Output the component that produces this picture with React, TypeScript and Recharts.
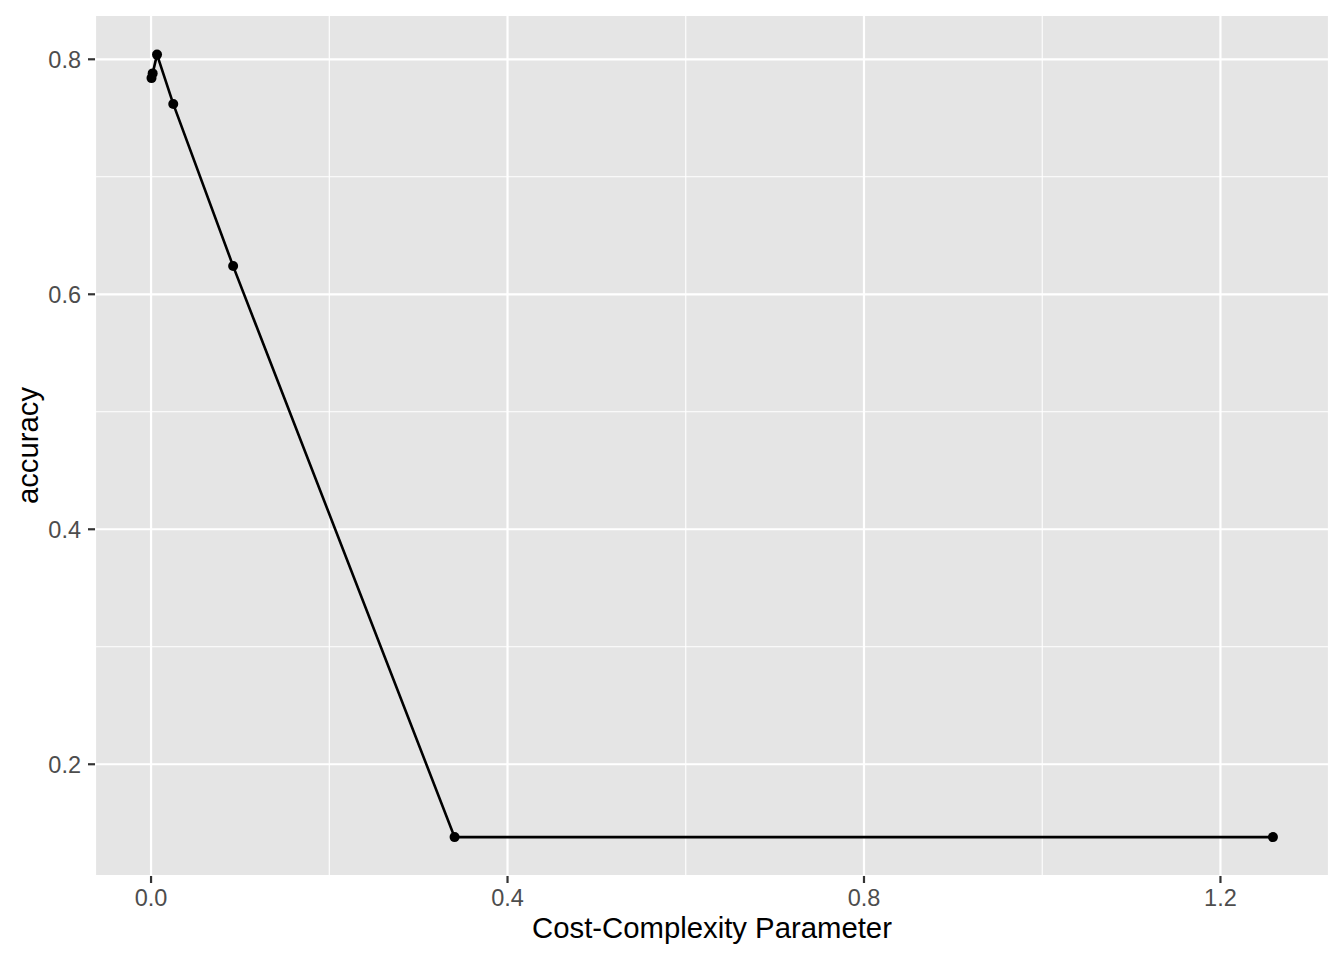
import { CartesianGrid, Label, Line, LineChart, ReferenceLine, XAxis, YAxis } from 'recharts';

// tuning grid results
const costComplexity = [0.0005, 0.0018, 0.0067, 0.0249, 0.0921, 0.3406, 1.2589];
const accuracy = [0.784, 0.788, 0.804, 0.762, 0.624, 0.138, 0.138];

const xTicks = [0, 0.4, 0.8, 1.2];
const yTicks = [0.2, 0.4, 0.6, 0.8];
const xMinor = [0.2, 0.6, 1.0];
const yMinor = [0.3, 0.5, 0.7];

const data = costComplexity.map((cp, i) => ({ cp, accuracy: accuracy[i] }));

const font = '"Liberation Sans", Arial, Helvetica, sans-serif';
const tickStyle = { fontSize: 23.5, fill: '#4D4D4D', fontFamily: font };

const YTitle = (props: any) => {
  const { x, y, height } = props.viewBox;
  return (
    <text
      transform={`translate(${x + 37.5}, ${y + height / 2}) rotate(-90)`}
      textAnchor="middle"
      fontSize={29.3}
      fontFamily={font}
      fill="#000000"
    >
      accuracy
    </text>
  );
};

export default function App() {
  return (
    <div style={{ position: 'absolute', left: 0, top: 0, width: 1344, height: 960, background: '#fff' }}>
      <LineChart
        width={1344}
        height={960}
        data={data}
        margin={{ top: 15, right: 15, left: 0, bottom: 0 }}
      >
        <CartesianGrid stroke="#FFFFFF" strokeWidth={2.2} fill="#E5E5E5" fillOpacity={1} />
        {xMinor.map((v) => (
          <ReferenceLine key={`x${v}`} x={v} stroke="#FFFFFF" strokeWidth={1.1} />
        ))}
        {yMinor.map((v) => (
          <ReferenceLine key={`y${v}`} y={v} stroke="#FFFFFF" strokeWidth={1.1} />
        ))}
        <XAxis
          type="number"
          dataKey="cp"
          domain={[-0.0629, 1.3218]}
          allowDataOverflow
          ticks={xTicks}
          tickFormatter={(v: number) => v.toFixed(1)}
          height={84}
          axisLine={false}
          tickSize={7}
          tickMargin={6}
          tickLine={{ stroke: '#333333', strokeWidth: 2.2 }}
          tick={tickStyle}
        >
          <Label
            value="Cost-Complexity Parameter"
            position="insideBottom"
            offset={22}
            style={{ fontSize: 29.3, fill: '#000000', fontFamily: font }}
          />
        </XAxis>
        <YAxis
          type="number"
          domain={[0.1049, 0.8377]}
          allowDataOverflow
          ticks={yTicks}
          tickFormatter={(v: number) => v.toFixed(1)}
          width={95}
          axisLine={false}
          tickSize={7}
          tickMargin={7}
          tickLine={{ stroke: '#333333', strokeWidth: 2.2 }}
          tick={tickStyle}
        >
          <Label content={YTitle} />
        </YAxis>
        <Line
          type="linear"
          dataKey="accuracy"
          stroke="#000000"
          strokeWidth={2.6}
          dot={{ r: 5, fill: '#000000', stroke: 'none' }}
          activeDot={false}
          isAnimationActive={false}
        />
      </LineChart>
    </div>
  );
}
